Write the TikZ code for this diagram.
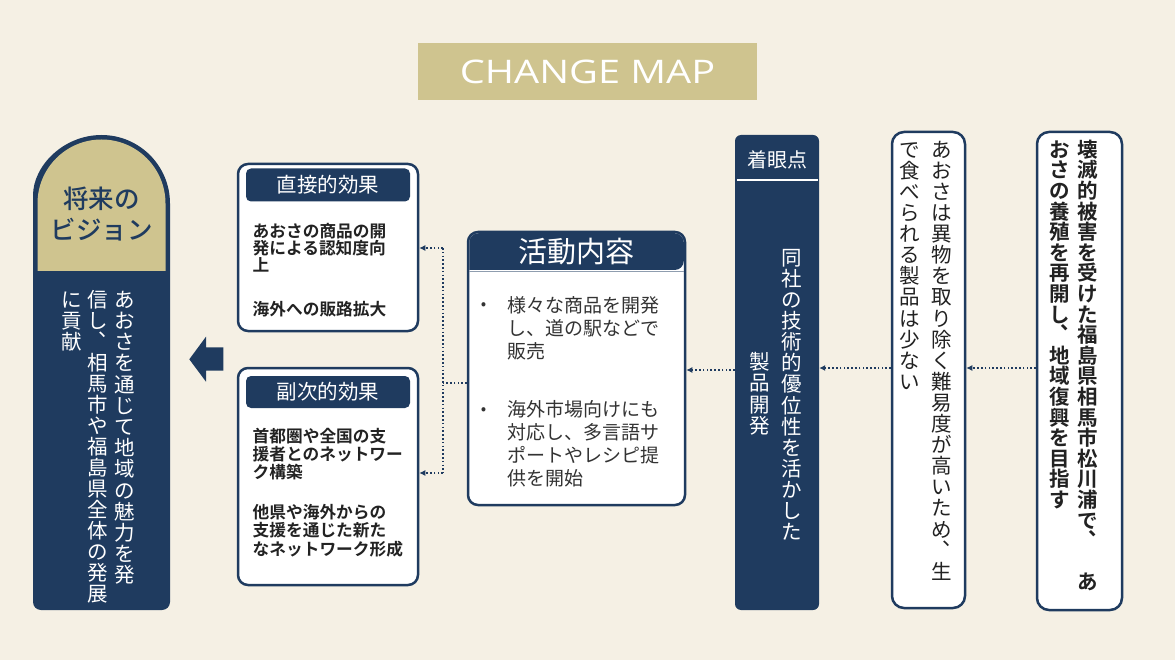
\documentclass[tikz,border=0pt]{standalone}
\usepackage{fontspec}
\usetikzlibrary{arrows.meta,calc}
\newfontfamily\jp{Noto Sans CJK JP}
\newfontfamily\jpm{Noto Sans CJK JP Medium}
\newfontfamily\jpb{Noto Sans CJK JP Bold}
\newfontfamily\titlefont{Open Sans}
\definecolor{navy}{HTML}{1F3B5F}
\definecolor{gold}{HTML}{CFC48F}
\definecolor{bg}{HTML}{F5F0E4}
\definecolor{ink}{HTML}{222222}
\definecolor{gray3}{HTML}{333333}
% vertical (tategaki) column: one cell per character
\newcommand\vcell[1]{\hbox to 1em{\vrule height .88em depth .12em width 0pt\relax
  \ifx、#1\hskip .52em\raise .62em\hbox{#1}\hss\else\hss#1\hss\fi}}
\ExplSyntaxOn
\NewDocumentCommand\vcol{O{0pt}m}{
  \vbox{
    \offinterlineskip
    \tl_map_inline:nn {#2} { \vcell{##1} \kern #1 }
  }
}
\ExplSyntaxOff
\tikzset{
  whitebox/.style={draw=navy, line width=2.5pt, fill=white, rounded corners=10pt, inner sep=0pt},
  hdr/.style={fill=navy, rounded corners=5pt, inner sep=0pt, text=white, font=\jp\fontsize{20.5}{20.5}\selectfont},
  body/.style={anchor=north west, inner sep=0pt, align=left, text=ink, font=\jpb\fontsize{16.7}{17.2}\selectfont},
  actbody/.style={anchor=north west, inner sep=0pt, align=left, text=gray3, font=\jp\fontsize{19}{23}\selectfont},
  vc/.style={inner sep=0pt, anchor=north, font=\jp\fontsize{20.5}{20.5}\selectfont},
  conn/.style={navy, line width=2.2pt, dash pattern=on 1.6pt off 2.2pt, -{Latex[length=6pt,width=6pt]}},
  connplain/.style={navy, line width=2.2pt, dash pattern=on 1.6pt off 2.2pt}
}
\begin{document}
\begin{tikzpicture}[x=1pt,y=1pt]
\useasboundingbox (0,0) rectangle (1175,-660);
\fill[bg] (0,0) rectangle (1175,-660);

% title
\node[fill=gold, minimum width=339pt, minimum height=57pt, inner sep=0pt, text=white,
  font=\titlefont\fontsize{32.5}{32.5}\selectfont] (title) at (587.5,-71.5) {\scalebox{1.22}[1]{CHANGE MAP}};

% vision box
\fill[navy] (33,-203.5) arc[start angle=180,end angle=0,radius=68.5] [rounded corners=8pt] -- (170,-610) -- (33,-610) -- cycle;
\fill[gold] (37.5,-203.5) arc[start angle=180,end angle=0,radius=64] -- (165.5,-271) -- (37.5,-271) -- cycle;
\node[text=navy, align=center, inner sep=0pt, font=\jpm\fontsize{25.5}{31}\selectfont] (visionhead) at (101.5,-214) {将来の\\ビジョン};
\node[vc, text=white] (vision1) at (125,-289) {\vcol[0.7pt]{あおさを通じて地域の魅力を発}};
\node[vc, text=white] (vision2) at (98,-289) {\vcol[0.5pt]{信し、相馬市や福島県全体の発展}};
\node[vc, text=white] (vision3) at (71.5,-289) {\vcol[0.7pt]{に貢献}};

% block arrow
\fill[navy] (189.3,-359.3) -- (206,-336.7) -- (206,-347.3) -- (223.3,-347.3) -- (223.3,-370.7) -- (206,-370.7) -- (206,-381.7) -- cycle;

% direct effects
\node[whitebox, minimum width=180pt, minimum height=167pt] (direct) at (328,-247.5) {};
\node[hdr, minimum width=164pt, minimum height=33pt] (directhead) at (328,-185) {直接的効果};
\node[body] (directtext) at (252.5,-223) {あおさの商品の開\\発による認知度向\\上\\[27pt]海外への販路拡大};

% secondary effects
\node[whitebox, minimum width=180pt, minimum height=217pt] (second) at (328,-476.5) {};
\node[hdr, minimum width=164pt, minimum height=32pt] (secondhead) at (328,-392) {副次的効果};
\node[body, font=\jpb\fontsize{16.7}{18.2}\selectfont] (secondtext) at (252.5,-428) {首都圏や全国の支\\援者とのネットワー\\ク構築\\[21.5pt]他県や海外からの\\支援を通じた新た\\なネットワーク形成};

% activities
\node[whitebox, minimum width=217pt, minimum height=273pt] (act) at (576.5,-368.5) {};
\fill[navy, rounded corners=9pt] (469.25,-270) -- (469.25,-233.25) -- (683.75,-233.25) -- (683.75,-270) [sharp corners] -- cycle;
\draw[navy!50, line width=0.8pt] (469.25,-271) -- (683.75,-271);
\node[text=white, inner sep=0pt, font=\jp\fontsize{29}{29}\selectfont] (acthead) at (576.5,-252) {活動内容};
\node[inner sep=0pt, text=gray3, font=\jp\fontsize{16}{16}\selectfont] (bullet1) at (483.5,-306) {•};
\node[actbody] (item1) at (507.5,-296) {様々な商品を開発\\し、道の駅などで\\販売};
\node[inner sep=0pt, text=gray3, font=\jp\fontsize{16}{16}\selectfont] (bullet2) at (483.5,-411) {•};
\node[actbody] (item2) at (507.5,-400) {海外市場向けにも\\対応し、多言語サ\\ポートやレシピ提\\供を開始};

% focus box
\node[fill=navy, rounded corners=6pt, minimum width=84pt, minimum height=475pt, inner sep=0pt] (focus) at (777,-372.5) {};
\node[text=white, inner sep=0pt, font=\jp\fontsize{20}{20}\selectfont] (focushead) at (777,-160) {着眼点};
\draw[white, line width=1.2pt] (737,-180) -- (818,-180);
\node[vc, anchor=center, text=white] (focus1) at (792,-395) {\vcol[0.6pt]{同社の技術的優位性を活かした}};
\node[vc, anchor=center, text=white] (focus2) at (760,-394) {\vcol[0.6pt]{製品開発}};

% box 3
\node[whitebox, rounded corners=12pt, minimum width=73pt, minimum height=476pt] (issue) at (928.5,-370) {};
\node[vc, text=ink] (issue1) at (942,-139) {\vcol[0.6pt]{あおさは異物を取り除く難易度が高いため、生}};
\node[vc, text=ink] (issue2) at (910,-139) {\vcol[0.6pt]{で食べられる製品は少ない}};

% box 4
\node[whitebox, rounded corners=12pt, minimum width=85pt, minimum height=478pt] (origin) at (1079.5,-371) {};
\node[vc, text=ink, font=\jpb\fontsize{20.5}{20.5}\selectfont] (origin1) at (1088,-139) {\vcol[0.1pt]{壊滅的被害を受けた福島県相馬市松川浦で、　あ}};
\node[vc, text=ink, font=\jpb\fontsize{20.5}{20.5}\selectfont] (origin2) at (1060,-139) {\vcol[0.1pt]{おさの養殖を再開し、地域復興を目指す}};

% connectors
\coordinate (j) at (443,-383);
\coordinate (ja) at (443,-248);
\coordinate (jb) at (443,-473);
\draw[connplain] (j -| act.west) -- (j);
\draw[connplain] (ja) -- (jb);
\draw[conn] (ja) -- (ja -| direct.east);
\draw[conn] (jb) -- (jb -| second.east);
\coordinate (c1) at (760,-370);
\draw[conn] (c1 -| focus.west) -- (c1 -| act.east);
\coordinate (c2) at (900,-368);
\draw[conn] (c2 -| issue.west) -- (c2 -| focus.east);
\coordinate (c3) at (1000,-368);
\draw[conn] (c3 -| origin.west) -- (c3 -| issue.east);
\end{tikzpicture}
\end{document}
